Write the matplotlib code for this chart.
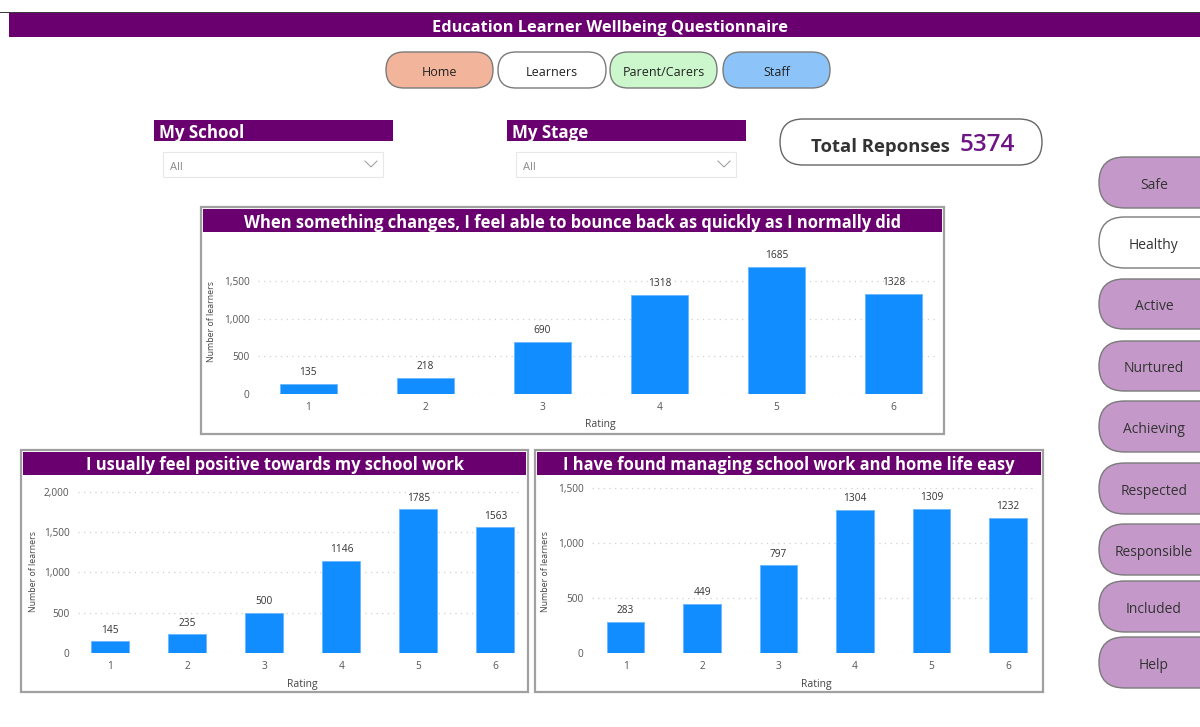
import matplotlib
matplotlib.use("Agg")
import matplotlib.pyplot as plt
from matplotlib.patches import Rectangle, FancyBboxPatch
from matplotlib.ticker import FuncFormatter

plt.rcParams["font.family"] = ["Open Sans", "DejaVu Sans"]

ratings = ["1", "2", "3", "4", "5", "6"]
bounce = [135, 218, 690, 1318, 1685, 1328]
positive = [145, 235, 500, 1146, 1785, 1563]
managing = [283, 449, 797, 1304, 1309, 1232]
total_responses = 5374

nav_buttons = ["Home", "Learners", "Parent/Carers", "Staff"]
nav_colors = ["#f2b59b", "#ffffff", "#ccf7cc", "#8cc4fa"]
side_buttons = ["Safe", "Healthy", "Active", "Nurtured", "Achieving",
                "Respected", "Responsible", "Included", "Help"]

PURPLE = "#6a006f"
BLUE = "#118dff"
W, H = 1200, 727
DY = 2  # Open Sans sits a touch high when centred

fig = plt.figure(figsize=(W / 100, H / 100), dpi=100)
bg = fig.add_axes([0, 0, 1, 1])
bg.set_xlim(0, W); bg.set_ylim(H, 0); bg.axis("off")


def rect(x0, y0, x1, y1, **kw):
    bg.add_patch(Rectangle((x0, y0), x1 - x0, y1 - y0, **kw))


def pill(x0, y0, x1, y1, fc, ec="#7a7a7a", lw=1.0):
    h = y1 - y0
    bg.add_patch(FancyBboxPatch((x0, y0), x1 - x0, h,
                                boxstyle=f"round,pad=0,rounding_size={h / 2}",
                                fc=fc, ec=ec, lw=lw))


# banner
rect(0, 11.5, W, 13, fc="#3a3a3a", ec="none")
rect(9, 13, W, 37, fc=PURPLE, ec="none")
bg.text(610, 26 + DY, "Education Learner Wellbeing Questionnaire", color="white",
        fontsize=11.8, fontweight="bold", ha="center", va="center")

# nav buttons
nav_x = [(386, 493), (498, 606), (610, 717), (723, 830)]
for (x0, x1), lab, c in zip(nav_x, nav_buttons, nav_colors):
    pill(x0, 52, x1, 88, c)
    bg.text((x0 + x1) / 2, 71 + DY, lab, fontsize=9, ha="center", va="center", color="#222")

# slicers
for x0, x1, lab in [(154, 393, "My School"), (507, 746, "My Stage")]:
    rect(x0, 120, x1, 141, fc=PURPLE, ec="none")
    bg.text(x0 + 5, 131 + DY, lab, color="white", fontsize=12.2, fontweight="bold", va="center")
    dx0, dx1 = x0 + 9, x1 - 10
    rect(dx0, 152, dx1, 177, fc="white", ec="#e8e8e8", lw=0.8)
    bg.text(dx0 + 7, 167, "All", fontsize=8, color="#888", va="center")
    bg.plot([dx1 - 18, dx1 - 12, dx1 - 6], [161, 167, 161], color="#999", lw=0.7)

# total responses
pill(780, 119, 1042, 165, "white", ec="#666")
bg.text(950, 145 + DY, "Total Reponses", fontsize=13.3, fontweight="bold", color="#333",
        ha="right", va="center")
bg.text(960, 143 + DY, f"{total_responses}", fontsize=17.5, color="#6e1585",
        ha="left", va="center", fontweight="semibold")

# side buttons
side_y = [(157, 208), (217, 268), (279, 329), (341, 391), (401, 452),
          (463, 514), (524, 575), (581, 632), (637, 688)]
for (y0, y1), lab in zip(side_y, side_buttons):
    pill(1099, y0, 1225, y1, "white" if lab == "Healthy" else "#c499c9")
    bg.text(1154, (y0 + y1) / 2 + 1 + DY, lab, fontsize=10, ha="center", va="center", color="#333")


def panel(box, header_h, title, axbox, ylim, yticks, xlim, vals, ylab_x, rating_xy):
    x0, y0, x1, y1 = box
    rect(x0, y0, x1, y1, fc="white", ec="#a0a0a0", lw=1.6)
    rect(x0 + 2, y0 + 2, x1 - 2, y0 + 2 + header_h, fc=PURPLE, ec="none")
    bg.text((x0 + x1) / 2, y0 + 2 + header_h / 2 + DY, title, color="white",
            fontsize=11.9, fontweight="bold", ha="center", va="center")
    ax0, ay0, ax1, ay1 = axbox
    ax = fig.add_axes([ax0 / W, 1 - ay1 / H, (ax1 - ax0) / W, (ay1 - ay0) / H])
    ax.patch.set_alpha(0)
    xs = list(range(len(ratings)))
    bars = ax.bar(xs, vals, width=0.49, color=BLUE, edgecolor="#6ab6ff", lw=0.6, zorder=3)
    for b, v in zip(bars, vals):
        ax.annotate(f"{v}", (b.get_x() + b.get_width() / 2, v), xytext=(0, 4),
                    textcoords="offset points", ha="center", va="bottom",
                    fontsize=7.3, color="#333")
    ax.set_xlim(*xlim); ax.set_ylim(*ylim)
    ax.set_xticks(xs); ax.set_xticklabels(ratings)
    ax.set_yticks(yticks)
    ax.yaxis.set_major_formatter(FuncFormatter(lambda v, p: f"{int(v):,}"))
    ax.tick_params(length=0, labelsize=7.3, colors="#555", pad=6)
    ax.grid(axis="y", color="#d0d0d0", lw=0.9, linestyle=(0, (1, 3.5)), zorder=0)
    for s in ax.spines.values():
        s.set_visible(False)
    bg.text(ylab_x, (ay0 + ay1) / 2 + 5, "Number of learners", rotation=90,
            fontsize=6.3, color="#444", ha="center", va="center")
    bg.text(rating_xy[0], rating_xy[1] + 1, "Rating", fontsize=7.5, color="#444",
            ha="center", va="center")
    return ax


panel((201, 207, 944, 434), 23,
      "When something changes, I feel able to bounce back as quickly as I normally did",
      (258, 240, 938, 394), (0, 2044), [0, 500, 1000, 1500], (-0.43, 5.38),
      bounce, 211, (600, 424))
panel((21, 450, 528, 692), 23, "I usually feel positive towards my school work",
      (78, 480, 520, 653), (0, 2149), [0, 500, 1000, 1500, 2000], (-0.42, 5.32),
      positive, 33, (302, 683))
panel((535, 450, 1043, 692), 23, "I have found managing school work and home life easy",
      (592, 480, 1037, 653), (0, 1573), [0, 500, 1000, 1500], (-0.44, 5.38),
      managing, 546, (816, 683))

fig.savefig("out.png", dpi=100, facecolor="white")
